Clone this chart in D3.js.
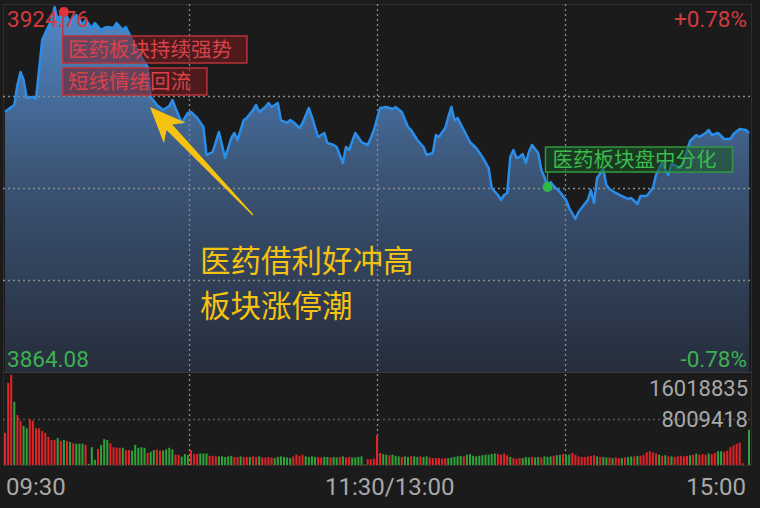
<!DOCTYPE html>
<html><head><meta charset="utf-8">
<script src="https://cdn.jsdelivr.net/npm/d3@7"></script>
<style>
html,body{margin:0;padding:0;background:#1b1b1b;}
svg{display:block;}
</style></head>
<body>
<svg id="chart" width="760" height="508"></svg>
<script>
// ---------- data ----------
const prevClose = 3894.42;
const priceHigh = 3924.76;
const priceLow = 3864.08;
const priceLabels = ["3924.76", "3864.08"];
const pctLabels = ["+0.78%", "-0.78%"];
const volTicks = [16018835, 8009418];
const timeLabels = ["09:30", "11:30/13:00", "15:00"];
const timeTickMinutes = [0, 120, 240];

// minute index (0 = 09:30, 120 = 11:30/13:00, 240 = 15:00)
const minutes = [0,2,3,4,5,6,7,9,10,12,13,15,16,17,18,19,21,23,25,26,28,29,31,32,33,35,36,38,39,41,44,46,47,49,51,53,54,55,57,59,60,62,64,65,67,69,71,73,74,75,77,78,80,81,82,84,85,86,88,89,91,92,93,95,96,98,99,101,103,104,106,107,109,110,111,113,115,117,118,119,121,123,125,126,128,130,131,133,135,136,138,139,140,142,143,144,145,146,148,150,152,154,156,157,159,160,161,162,163,164,165,166,167,168,169,170,172,173,174,175,176,177,179,181,182,184,185,188,189,190,191,193,194,195,197,199,201,202,204,205,207,209,210,212,213,214,215,218,219,221,223,224,226,227,228,230,232,234,235,237,239,240];
const prices = [3906.95,3907.78,3908.11,3911.40,3913.55,3912.23,3909.26,3909.42,3909.10,3918.82,3919.98,3922.12,3924.27,3922.12,3922.95,3923.44,3921.79,3922.95,3921.30,3922.12,3920.80,3921.63,3920.47,3920.80,3920.97,3920.80,3921.63,3920.47,3920.97,3918.82,3916.02,3914.37,3909.42,3908.11,3907.28,3907.94,3908.93,3907.61,3905.14,3906.79,3906.95,3905.96,3904.48,3899.86,3900.36,3903.65,3899.37,3902.66,3903.49,3902.33,3905.63,3905.96,3907.28,3908.11,3906.95,3907.78,3908.44,3907.78,3908.44,3905.63,3905.14,3905.63,3905.30,3904.31,3905.14,3907.61,3906.13,3902.83,3903.49,3901.84,3901.51,3901.18,3898.54,3901.18,3900.69,3903.49,3902.00,3901.51,3902.66,3903.98,3907.61,3907.78,3907.45,3907.78,3906.95,3904.48,3903.98,3902.33,3901.18,3899.86,3900.19,3903.16,3902.83,3904.31,3906.13,3907.78,3905.63,3905.96,3903.98,3902.00,3901.02,3899.53,3897.72,3894.42,3893.27,3892.44,3893.27,3893.60,3899.53,3900.69,3899.37,3899.53,3900.03,3898.54,3900.36,3901.51,3900.19,3897.39,3896.23,3894.58,3895.41,3894.75,3893.76,3892.44,3891.12,3889.31,3890.46,3892.44,3894.09,3891.95,3896.07,3897.55,3894.91,3894.25,3893.60,3893.10,3892.61,3892.77,3891.78,3893.10,3893.10,3894.42,3896.56,3898.71,3897.39,3896.56,3898.38,3897.72,3899.04,3902.17,3903.16,3902.83,3903.49,3903.98,3903.16,3903.49,3902.50,3902.50,3903.32,3904.15,3903.98,3903.49];

// per-minute volume (millions of units) and bar direction (r = up, g = down)
const volumesM = [5.6,14.3,15.7,11.0,8.7,7.7,6.8,6.4,8.0,7.7,6.4,6.4,5.9,5.6,4.9,4.35,4.35,4.7,4.2,4.35,4.2,4.0,3.8,3.7,3.7,3.7,3.5,0.2,3.1,0.9,
2.8,3.5,4.5,4.35,3.8,3.1,3.0,3.0,3.0,2.6,2.6,2.5,3.5,3.0,3.1,3.0,2.1,2.3,2.6,2.7,2.5,2.5,2.7,3.0,2.7,1.8,1.8,1.45,1.9,1.7,
2.6,1.9,1.9,2.0,2.0,2.0,1.6,1.6,1.5,1.5,1.5,1.4,1.5,1.6,1.4,1.4,1.5,1.4,1.4,1.4,1.5,1.4,1.5,1.3,1.3,1.4,1.3,1.2,1.4,1.5,
1.4,1.3,1.2,1.5,1.8,1.6,1.8,1.5,1.4,1.5,1.4,1.4,1.3,1.4,1.4,1.3,1.4,1.3,1.4,1.5,1.3,1.4,1.3,1.3,1.4,1.5,0.1,1.0,1.0,1.1,
5.1,
2.1,1.9,1.8,1.7,1.8,1.6,1.5,1.4,1.5,1.4,1.5,1.5,1.4,1.5,1.4,1.5,1.3,1.2,1.2,1.2,1.1,1.2,1.2,1.3,1.4,1.5,1.6,1.5,1.8,1.9,
1.6,1.5,1.6,1.7,1.8,1.8,1.9,2.0,1.9,1.8,2.0,1.7,1.4,1.2,1.1,1.2,1.2,1.4,1.3,1.4,1.3,1.4,1.3,1.5,1.4,1.5,1.6,1.7,1.8,1.9,
1.7,1.8,2.1,1.8,1.5,1.4,1.4,1.5,1.6,1.7,1.5,1.4,1.4,1.3,1.3,1.2,1.3,1.2,1.2,1.3,1.4,1.5,1.5,1.6,1.6,1.8,2.2,2.4,2.2,2.0,
1.8,1.6,1.7,1.5,1.5,1.4,1.5,1.6,1.5,1.6,1.7,1.8,2.0,1.8,1.9,1.8,2.0,1.9,2.1,2.4,2.4,2.3,2.5,3.1,3.4,3.7,3.9,0.3,0.0,6.1];
const volDir =
  "rrrgrrggrrrrrrrrrgrgrgrgggrggg" +
  "rgggrrrrgrrgggggrggrrggggrrggg" +
  "rrrgggrrrgggggrrgrrgrrgrrrrggg" +
  "gggrrrrggggrrggrggrgrrgggggrrr" +
  "r" +
  "rggrgg" + "grggrggrgg" + "rrrrrrggg" + "ggrgggg" + "ggggggr" + "rrrg" + "rrrg" +
  "ggrggr" + "gggrg" + "grggrr" + "rrrrrrgrggr" + "grrgrg" + "grgrr" + "rrr" + "rgrg" +
  "rgrr" + "rrrgrgr" + "rrgrr" + "ggrr" + "rrrr" + "rgg";

// ---------- layout ----------
const W = 760, H = 508;
const left = 5, right = 749;
const priceTop = 4, priceBottom = 372;
const volTop = 373, volBottom = 465;

const svg = d3.select("#chart");
svg.append("rect").attr("width", W).attr("height", H).attr("fill", "#1b1b1b");

const x = d3.scaleLinear().domain([0, 240]).range([left, right]);
const gridX = d3.scaleLinear().domain([0, 4]).range([1, 753]);
const y = d3.scaleLinear().domain([priceLow, priceHigh]).range([priceBottom, priceTop]);
const yv = d3.scaleLinear().domain([0, volTicks[0]]).range([volBottom, volTop]);

const series = minutes.map((t, i) => ({t, p: prices[i]}));
const volumes = volumesM.map((v, i) => ({t: i, v: v * 1e6, d: volDir[i] || "g"}));

// gradient
const defs = svg.append("defs");
const grad = defs.append("linearGradient").attr("id", "areaGrad")
  .attr("gradientUnits", "userSpaceOnUse")
  .attr("x1", 0).attr("x2", 0).attr("y1", priceTop).attr("y2", priceBottom);
grad.append("stop").attr("offset", "0").attr("stop-color", "#5289cb");
grad.append("stop").attr("offset", "0.45").attr("stop-color", "#3c5678");
grad.append("stop").attr("offset", "1").attr("stop-color", "#262d3b");

// frame
svg.append("rect").attr("x", 3.5).attr("y", priceTop + 0.5).attr("width", 748).attr("height", volBottom - priceTop)
  .attr("fill", "none").attr("stroke", "#2e2e2e").attr("stroke-width", 1);
svg.append("line").attr("x1", 3.5).attr("x2", 751.5).attr("y1", priceBottom + 0.5).attr("y2", priceBottom + 0.5)
  .attr("stroke", "#3a3a3a").attr("stroke-width", 1.2);

// area + line
const area = d3.area().x(d => x(d.t)).y0(priceBottom).y1(d => y(d.p));
const line = d3.line().x(d => x(d.t)).y(d => y(d.p));
svg.append("path").datum(series).attr("d", area).attr("fill", "url(#areaGrad)");

// grid
const q = (priceHigh - priceLow) / 4;
const gridG = svg.append("g").attr("stroke", "#8c8c8c").attr("stroke-width", 1.3).attr("stroke-dasharray", "2,3");
[priceHigh - q, prevClose, priceLow + q].forEach(v => {
  gridG.append("line").attr("x1", 3).attr("x2", 752).attr("y1", Math.round(y(v)) + 0.5).attr("y2", Math.round(y(v)) + 0.5);
});
[1, 2, 3].forEach(k => {
  gridG.append("line").attr("x1", Math.round(gridX(k)) + 0.5).attr("x2", Math.round(gridX(k)) + 0.5)
    .attr("y1", priceTop).attr("y2", volBottom);
});
gridG.append("line").attr("x1", 3).attr("x2", 752).attr("y1", Math.round(yv(volTicks[1])) + 0.5).attr("y2", Math.round(yv(volTicks[1])) + 0.5)
  .attr("stroke", "#555");

svg.append("path").datum(series).attr("d", line).attr("fill", "none")
  .attr("stroke", "#2a8ee8").attr("stroke-width", 2.5).attr("stroke-linejoin", "round");

// volume bars
svg.append("g").selectAll("rect").data(volumes).join("rect")
  .attr("x", d => x(d.t) - 1).attr("width", 2)
  .attr("y", d => yv(d.v)).attr("height", d => volBottom - yv(d.v))
  .attr("fill", d => d.d === "r" ? "#e02428" : "#2fa33a");

// labels
const numFont = "Roboto, 'Liberation Sans', sans-serif";
const cjkFont = "'Noto Sans CJK SC', sans-serif";
svg.append("text").attr("x", 7).attr("y", 27).text(priceLabels[0])
  .attr("fill", "#d23a3e").attr("font-size", 22.5).attr("font-family", numFont);
svg.append("text").attr("x", 747).attr("y", 27).attr("text-anchor", "end").text(pctLabels[0])
  .attr("fill", "#d23a3e").attr("font-size", 22.5).attr("font-family", numFont);
svg.append("text").attr("x", 7).attr("y", 367).text(priceLabels[1])
  .attr("fill", "#3db04f").attr("font-size", 22.5).attr("font-family", numFont);
svg.append("text").attr("x", 747).attr("y", 367).attr("text-anchor", "end").text(pctLabels[1])
  .attr("fill", "#3db04f").attr("font-size", 22.5).attr("font-family", numFont);
svg.append("text").attr("x", 748).attr("y", 396).attr("text-anchor", "end").text(volTicks[0])
  .attr("fill", "#a8a8a8").attr("font-size", 22).attr("font-family", numFont);
svg.append("text").attr("x", 748).attr("y", 427).attr("text-anchor", "end").text(volTicks[1])
  .attr("fill", "#a8a8a8").attr("font-size", 22).attr("font-family", numFont);

const tl = [{a: "start", x: 6}, {a: "start", x: 325}, {a: "end", x: 746}];
timeLabels.forEach((s, i) => {
  svg.append("text").attr("x", tl[i].x).attr("y", 495).attr("text-anchor", tl[i].a).text(s)
    .attr("fill", "#a8a8a8").attr("font-size", 24).attr("font-family", numFont);
});

// red annotation (at the high)
const hiIdx = 15; // minute 19
const hx = x(minutes[hiIdx]) , hy = y(prices[hiIdx]);
const redAnn = ["医药板块持续强势", "短线情绪回流"];
svg.append("line").attr("x1", hx - 1).attr("x2", hx - 1).attr("y1", hy).attr("y2", hy + 51)
  .attr("stroke", "#c8343a").attr("stroke-width", 1.5);
const boxes = [{y: 36, w: 184}, {y: 68, w: 144}];
redAnn.forEach((s, i) => {
  svg.append("rect").attr("x", hx - 1).attr("y", boxes[i].y).attr("width", boxes[i].w).attr("height", 27)
    .attr("fill", "rgba(120,25,30,0.55)").attr("stroke", "#b8343a").attr("stroke-width", 1.5);
  svg.append("text").attr("x", hx + 4).attr("y", boxes[i].y + 21).text(s)
    .attr("fill", "#d8434b").attr("font-size", 20.5).attr("font-family", cjkFont);
});
svg.append("circle").attr("cx", hx).attr("cy", hy).attr("r", 5).attr("fill", "#e0343c");

// green annotation
const gIdx = minutes.indexOf(175);
const gx = x(minutes[gIdx]), gy = y(prices[gIdx]);
svg.append("line").attr("x1", gx).attr("x2", gx).attr("y1", gy).attr("y2", gy - 15)
  .attr("stroke", "#2f9a42").attr("stroke-width", 1.5);
svg.append("rect").attr("x", gx - 2).attr("y", gy - 40).attr("width", 187).attr("height", 25)
  .attr("fill", "rgba(25,85,35,0.55)").attr("stroke", "#2f9a42").attr("stroke-width", 1.5);
svg.append("text").attr("x", gx + 5).attr("y", gy - 20).text("医药板块盘中分化")
  .attr("fill", "#3cba50").attr("font-size", 20.5).attr("font-family", cjkFont);
svg.append("circle").attr("cx", gx).attr("cy", gy).attr("r", 5).attr("fill", "#2fb84a");

// yellow arrow
const tip = [150, 107], tail = [253, 215];
const ang = Math.atan2(tail[1] - tip[1], tail[0] - tip[0]);
const headLen = 36, headW = 15, shaftW = 4;
const ux = Math.cos(ang), uy = Math.sin(ang), px = -uy, py = ux;
const base = [tip[0] + ux * headLen, tip[1] + uy * headLen];
const neck = [tip[0] + ux * (headLen - 8), tip[1] + uy * (headLen - 8)];
const pts = [
  tip,
  [base[0] + px * headW, base[1] + py * headW],
  [neck[0] + px * shaftW, neck[1] + py * shaftW],
  [tail[0] + px * 0.6, tail[1] + py * 0.6],
  [tail[0] - px * 0.6, tail[1] - py * 0.6],
  [neck[0] - px * shaftW, neck[1] - py * shaftW],
  [base[0] - px * headW, base[1] - py * headW]
];
svg.append("path").attr("d", d3.line()(pts) + "Z").attr("fill", "#f5c211");

// two-line callout
const yellowText = ["医药借利好冲高", "板块涨停潮"];
yellowText.forEach((s, i) => {
  svg.append("text").attr("x", 200).attr("y", 272 + i * 45).text(s)
    .attr("fill", "#f5c211").attr("font-size", 30.5).attr("font-family", cjkFont);
});
</script>
</body></html>
